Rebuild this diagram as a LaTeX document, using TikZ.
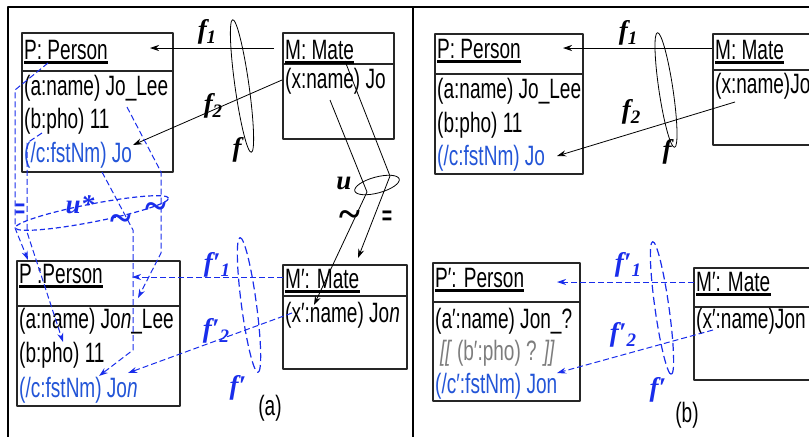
\documentclass[tikz,border=0pt]{standalone}
\usepackage{fontspec}
\setmainfont{Liberation Sans}[FakeStretch=0.68]
\newfontfamily\lblfont{Liberation Serif}
\usetikzlibrary{arrows.meta}
\definecolor{tblue}{RGB}{35,85,215}
\definecolor{lblue}{RGB}{25,45,235}
\definecolor{qgray}{RGB}{125,125,125}
\newcommand{\fl}[2]{f#1\raisebox{-5pt}{\fontsize{19}{19}\selectfont #2}}
\begin{document}
\begin{tikzpicture}[x=1pt, y=-1pt, >={Stealth[length=9pt,width=6pt]}, line join=round,
  font=\fontsize{28}{32}\selectfont,
  box/.style={draw=black!85, line width=1.2pt},
  row/.style={anchor=base west, inner sep=0pt},
  ul/.style={line width=3pt},
  con/.style={->, line width=0.8pt},
  dcon/.style={->, lblue, line width=1pt, dash pattern=on 6pt off 3pt},
  lbl/.style={inner sep=0pt, font=\lblfont\bfseries\itshape\fontsize{27}{27}\selectfont},
  sym/.style={inner sep=0pt, font=\lblfont\bfseries\fontsize{40}{40}\selectfont},
  eq/.style={inner sep=0pt, font=\bfseries\fontsize{26}{26}\selectfont},
  rim/.style={line width=0.8pt},
  drim/.style={lblue, line width=1.2pt, dash pattern=on 8pt off 4pt}]
\useasboundingbox (0,0) rectangle (809,437);
\draw[line width=1.3pt] (809,7) -- (8,7) -- (8,437);
\draw[line width=1.3pt] (413,7) -- (413,437);

% (a) boxes
\draw[box] (22,33) rectangle (173,172); \draw[box] (22,71) -- (173,71);
\draw[box] (283,33) rectangle (394,139); \draw[box] (283,64) -- (394,64);
\draw[box] (17,261) rectangle (180,406); \draw[box] (17,306) -- (180,306);
\draw[box] (283,265) rectangle (407,369); \draw[box] (283,296) -- (407,296);
% (b) boxes
\draw[box] (435,34) rectangle (583,174); \draw[box] (435,74) -- (583,74);
\draw[box] (809,34) -- (713,34) -- (713,145) -- (809,145); \draw[box] (713,70) -- (809,70);
\draw[box] (433,263) rectangle (580,401); \draw[box] (433,302) -- (580,302);
\draw[box] (809,268) -- (694,268) -- (694,380) -- (809,380); \draw[box] (694,307) -- (809,307);

\node[row] (pa) at (24,59) {P: Person};
\node[row] (pa1) at (24,95) {(a:name) Jo\_Lee};
\node[row] (pa2) at (24,128) {(b:pho) 11};
\node[row, tblue] (pa3) at (24,162) {(/c:fstNm) Jo};
\node[row] (ma) at (285,59) {M: Mate};
\node[row] (ma1) at (285,88) {(x:name) Jo};
\node[row] (pan) at (19,283) {P :Person};
\node[row] (pan1) at (19,328) {(a:name) Jo\textit{n}\_Lee};
\node[row] (pan2) at (19,362) {(b:pho) 11};
\node[row, tblue] (pan3) at (19,397) {(/c:fstNm) Jo\textit{n}};
\node[row] (man) at (285,288) {M′: Mate};
\node[row] (man1) at (285,322) {(x′:name) Jo\textit{n}};

\node[row] (pb) at (437,58) {P: Person};
\node[row] (pb1) at (437,98) {(a:name) Jo\_Lee};
\node[row] (pb2) at (437,132) {(b:pho) 11};
\node[row, tblue] (pb3) at (437,165) {(/c:fstNm) Jo};
\node[row] (mb) at (715,59) {M: Mate};
\node[row] (mb1) at (715,93) {(x:name)Jo};
\node[row] (pbn) at (435,287) {P′: Person};
\node[row] (pbn1) at (435,328) {(a′:name) Jon\_?};
\node[row, qgray] (pbn2) at (440,360) {\textit{[[}\,(b′:pho) ? \textit{]]}};
\node[row, tblue] (pbn3) at (435,393) {(/c′:fstNm) Jon};
\node[row] (mbn) at (696,291) {M′: Mate};
\node[row] (mbn1) at (696,328) {(x′:name)Jon};

\foreach \n in {pa,ma,pan,man,pb,mb,pbn,mbn}
  \draw[ul] ([yshift=-3.5pt]\n.base west) -- ([yshift=-3.5pt]\n.base east);

% (a) mappings
\coordinate (f1a) at (274,48);  \coordinate (f1b) at (150,48);
\coordinate (f2a) at (282,80);  \coordinate (f2b) at (133,145);
\coordinate (g1a) at (283,277); \coordinate (g1b) at (132,277);
\coordinate (g2a) at (292,313); \coordinate (g2b) at (128,373);
\draw[con] (f1a) -- (f1b);
\draw[con] (f2a) -- (f2b);
\draw[dcon] (g1a) -- (g1b);
\draw[dcon] (g2a) -- (g2b);
\draw[rim, rotate around={-82:(242,86)}] (242,86) ellipse [x radius=67pt, y radius=7pt];
\draw[drim, rotate around={-82.4:(249,305)}] (249,305) ellipse [x radius=68pt, y radius=7.5pt];

% u and u*
\coordinate (ua) at (330,100); \coordinate (ub) at (345,61);
\coordinate (uc) at (314,305); \coordinate (ud) at (358,258);
\draw[con] (ua) -- (367,192) -- (uc);
\draw[con] (ub) -- (390,176) -- (ud);
\draw[rim, rotate around={15:(377,185)}] (377,185) ellipse [x radius=23pt, y radius=8pt];
\draw[dcon] (48,63) -- (15,90) -- (15,228) -- (28,260);
\draw[dcon] (42,133) -- (27,143) -- (27,232) -- (63,342);
\draw[dcon] (127,107) -- (161,172) -- (161,253) -- (138,298);
\draw[dcon] (102,172) -- (133,230) -- (133,350) -- (99,376);
\draw[lblue, line width=1.2pt, dash pattern=on 5pt off 3pt, rotate around={11:(92,213)}] (92,213) ellipse [x radius=78pt, y radius=9pt];

\node[lbl] (lf1) at (207,32) {\fl{}{1}};
\node[lbl] (lf2) at (213,106) {\fl{}{2}};
\node[lbl] (lf) at (237,150) {f};
\node[lbl] (lu) at (344,183) {u};
\node[sym] (lt) at (350,219) {\textasciitilde};
\node[eq] (le) at (387,218) {=};
\node[lbl, lblue] (lus) at (80,205) {u*};
\node[sym, lblue] (lt1) at (121,223) {\textasciitilde};
\node[sym, lblue] (lt2) at (156,211) {\textasciitilde};
\node[eq, lblue] (le1) at (20,211) {=};
\node[lbl, lblue] (lg1) at (217,265) {\fl{′}{1}};
\node[lbl, lblue] (lg2) at (216,331) {\fl{′}{2}};
\node[lbl, lblue] (lg) at (238,388) {f′};
\node (ca) at (270,408) {(a)};

% (b) mappings
\coordinate (h1a) at (712,48);  \coordinate (h1b) at (563,48);
\coordinate (h2a) at (735,102); \coordinate (h2b) at (557,156);
\coordinate (k1a) at (694,282); \coordinate (k1b) at (557,282);
\coordinate (k2a) at (713,330); \coordinate (k2b) at (557,373);
\draw[con] (h1a) -- (h1b);
\draw[con] (h2a) -- (h2b);
\draw[dcon] (k1a) -- (k1b);
\draw[dcon] (k2a) -- (k2b);
\draw[rim, rotate around={-81.5:(666,90)}] (666,90) ellipse [x radius=58pt, y radius=7pt];
\draw[drim, rotate around={-82:(662,308)}] (662,308) ellipse [x radius=67pt, y radius=7pt];
\node[lbl] (mf1) at (628,33) {\fl{}{1}};
\node[lbl] (mf2) at (631,112) {\fl{}{2}};
\node[lbl] (mf) at (667,152) {f};
\node[lbl, lblue] (mg1) at (628,265) {\fl{′}{1}};
\node[lbl, lblue] (mg2) at (623,335) {\fl{′}{2}};
\node[lbl, lblue] (mg) at (658,390) {f′};
\node (cb) at (687,415) {(b)};
\end{tikzpicture}
\end{document}
